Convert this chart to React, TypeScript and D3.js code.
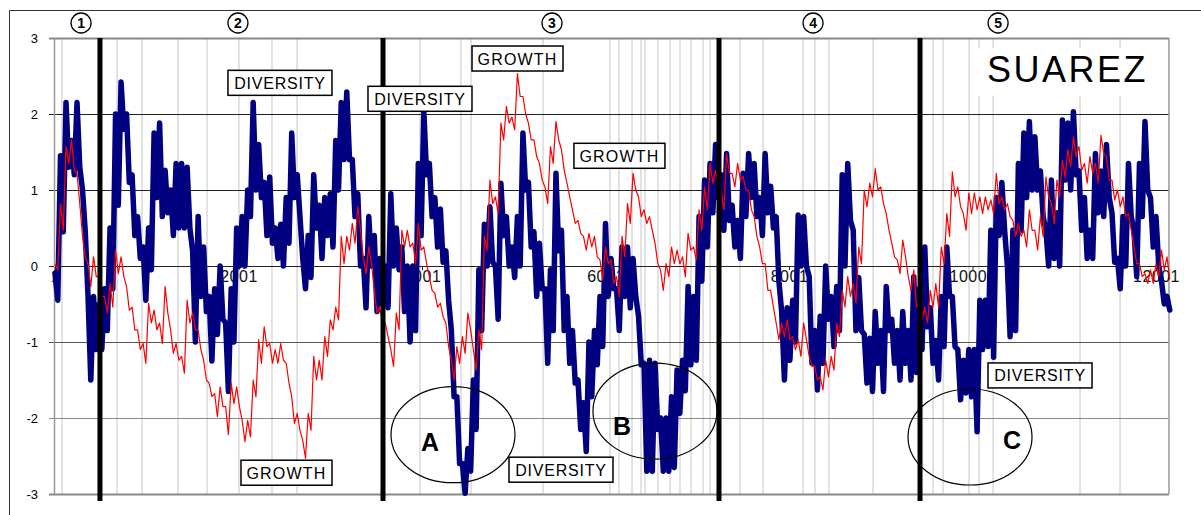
import React, { useEffect, useRef } from "react";
import * as d3 from "d3";

// the series are read every 60 observations; each reading keeps the top and the
// bottom of the noisy band at that spot (drawn 30 observations apart)
const STEP = 60;

// DIVERSITY (blue), top of band
const diversityHigh = [
  -0.1, 1.45, 2.15, 1.65, 2.15, 1.0, -0.4, -0.4, -0.5, -0.3,
  0.5, 2.0, 2.42, 2.0, 1.2, 0.65, 0.25, 0.5, 1.75, 1.88,
  1.26, 1.0, 1.35, 1.35, 1.3, 0.2, 0.65, 0.25, -0.4, -0.3,
  0.0, -0.75, -0.3, 0.5, 0.65, 1.0, 2.15, 1.6, 1.1, 1.17,
  0.5, 0.55, 0.9, 1.75, 1.2, 0.1, 0.4, 1.2, 0.8, 0.9,
  0.95, 1.65, 2.15, 2.29, 1.4, 0.95, 0.1, 0.65, 0.4, 0.1,
  0.0, 0.95, 0.5, 0.25, 0.0, 0.0, 1.35, 2.03, 1.35, 0.9,
  0.75, 0.2, -0.85, -1.72, -2.6, -2.4, -1.5, -0.05, 0.55, 0.78,
  0.0, 1.09, 0.65, 0.25, 0.65, 1.75, 1.1, 0.45, 0.3, -0.3,
  -0.05, 1.22, 0.47, -0.4, -0.85, -1.5, -1.8, -1.0, -0.85, -0.4,
  0.56, 0.1, -0.3, 0.25, 0.25, 0.1, -0.66, -1.28, -1.24, -1.28,
  -2.0, -2.0, -1.72, -1.37, -1.24, -0.27, -0.4, 0.65, 1.13, 1.35,
  1.6, 1.2, 1.48, 0.8, 0.6, 1.22, 1.48, 1.35, 0.9, 1.48,
  1.05, 0.65, -0.6, -0.55, -0.45, 0.67, 0.65, -0.14, -0.85, -0.66,
  0.0, -0.4, -0.27, 1.2, 1.35, 0.47, -0.15, -0.9, -0.95, -0.6,
  -0.85, -0.27, -0.7, -0.85, -0.6, -0.85, -0.14, -0.3, 0.25, -0.55,
  -0.98, -0.4, 0.25, -0.4, -1.1, -1.24, -1.1, -1.1, -0.45, -0.45,
  0.47, 0.9, 1.1, 0.0, 0.47, 1.35, 1.75, 1.9, 1.7, 1.25,
  0.47, 1.13, 0.7, 1.92, 1.88, 2.03, 1.25, 0.9, 0.47, 1.48,
  1.25, 1.6, 0.7, 0.1, 0.65, 1.35, 0.47, 1.35, 1.9, 0.9,
  0.65, -0.2, -0.4,
];

// DIVERSITY (blue), bottom of band
const diversityLow = [
  -0.45, 0.45, 1.3, 1.2, 1.3, 0.45, -1.5, -1.1, -1.1, -0.85,
  -0.3, 0.8, 1.8, 1.1, 0.4, 0.1, -0.45, -0.05, 0.9, 0.65,
  0.7, 0.4, 0.5, 0.5, 0.5, -1.0, -0.4, -0.6, -1.25, -0.9,
  -0.7, -1.65, -1.0, 0.0, 0.0, 0.65, 1.0, 0.9, 0.4, 0.3,
  0.1, 0.0, 0.3, 0.9, 0.65, -0.3, -0.15, 0.5, 0.1, 0.4,
  0.25, 1.0, 1.4, 1.4, 0.65, 0.0, -0.55, 0.0, -0.6, -0.5,
  -0.55, 0.0, -0.05, -0.6, -1.0, -0.85, 0.4, 1.2, 0.65, 0.25,
  0.05, -0.45, -1.72, -2.6, -2.99, -2.7, -2.15, -0.85, 0.0, 0.05,
  -0.7, 0.4, 0.0, -0.15, 0.0, 1.0, 0.25, -0.4, -0.3, -1.28,
  -0.85, 0.2, -0.85, -1.28, -1.54, -2.15, -2.44, -1.72, -1.3, -1.06,
  -0.4, -0.3, -0.85, -0.4, -0.55, -0.4, -1.3, -2.7, -2.7, -2.15,
  -2.7, -2.7, -2.65, -1.94, -1.64, -1.3, -1.24, -0.2, 0.25, 0.7,
  0.9, 0.47, 0.6, 0.25, 0.1, 0.65, 0.9, 0.65, 0.4, 0.7,
  0.5, -0.2, -1.5, -1.24, -1.0, 0.0, 0.0, -1.28, -1.63, -1.28,
  -0.7, -1.06, -0.85, 0.0, 0.6, -0.85, -0.85, -1.54, -1.65, -1.28,
  -1.65, -0.85, -1.28, -1.5, -1.28, -1.5, -1.4, -1.1, -0.8, -1.28,
  -1.5, -1.06, -0.4, -1.06, -1.76, -1.67, -1.72, -2.18, -1.1, -1.06,
  -1.2, 0.4, 0.47, -0.93, -0.85, 0.47, 0.9, 1.0, 1.0, 0.65,
  0.0, 0.1, 0.0, 1.13, 1.0, 1.2, 0.47, 0.1, 0.1, 0.7,
  0.65, 0.9, 0.05, -0.3, 0.0, 0.65, -0.14, 0.65, 1.0, 0.25,
  0.0, -0.5, -0.58,
];

// GROWTH (red), top of band
const growthHigh = [
  0.03, 0.82, 1.57, 1.66, 1.22, 0.39, 0.03, 0.12, -0.14, -0.4,
  -0.23, 0.21, 0.12, -0.27, -0.54, -0.84, -1.02, -0.49, -0.58, -0.75,
  -0.27, -0.84, -1.02, -1.19, -0.45, -0.62, -0.84, -1.24, -1.54, -1.68,
  -1.59, -1.85, -1.54, -1.59, -2.03, -2.03, -1.5, -0.97, -0.8, -1.02,
  -1.1, -1.02, -1.28, -1.72, -1.94, -2.29, -1.94, -1.19, -1.24, -0.93,
  -0.71, -0.54, 0.39, 0.39, 0.56, 0.78, 0.12, 0.25, -0.32, -0.54,
  -0.75, -1.1, -0.62, 0.47, 0.47, 0.3, 0.56, 0.25, -0.14, -0.36,
  -0.49, -0.75, -1.24, -1.06, -0.93, -0.62, -1.1, -0.84, 0.39, 1.13,
  0.91, 1.88, 2.1, 1.96, 2.53, 2.23, 1.88, 1.66, 1.35, 1.04,
  1.57, 1.9, 1.53, 1.09, 0.74, 0.6, 0.39, 0.43, 0.39, 0.08,
  0.25, 0.08, -0.14, 0.39, 0.82, 1.22, 0.91, 0.74, 0.65, 0.3,
  -0.05, 0.03, 0.25, 0.21, 0.12, 0.43, 0.25, 0.74, 1.04, 1.35,
  1.26, 1.0, 1.48, 1.22, 1.35, 1.18, 1.0, 0.65, 0.25, 0.03,
  -0.32, -0.75, -0.75, -0.71, -0.93, -0.97, -0.75, -1.19, -1.32, -1.46,
  -1.24, -1.19, -0.75, -0.32, -0.14, -0.23, 0.25, 1.0, 1.09, 1.28,
  1.04, 0.69, 0.3, 0.08, 0.34, -0.14, -0.05, -0.49, -0.54, -0.32,
  -0.23, 0.25, 0.69, 1.24, 1.04, 0.69, 0.96, 0.96, 0.91, 0.91,
  0.87, 1.22, 0.91, 0.82, 0.6, 0.56, 0.47, 0.74, 0.47, 0.65,
  1.17, 0.82, 1.13, 1.39, 1.53, 1.7, 1.57, 1.35, 1.44, 1.35,
  1.72, 1.44, 1.13, 1.0, 0.91, 0.69, 0.25, 0.03, -0.1, -0.05,
  0.03, 0.21, 0.12,
];

// GROWTH (red), bottom of band
const growthLow = [
  -0.05, 0.47, 1.35, 1.26, 0.82, 0.12, -0.27, -0.14, -0.4, -0.62,
  -0.54, -0.1, -0.14, -0.58, -0.84, -1.1, -1.28, -0.75, -0.84, -1.02,
  -0.62, -1.15, -1.24, -1.41, -0.75, -0.84, -1.1, -1.5, -1.72, -1.98,
  -1.85, -2.22, -1.81, -1.85, -2.31, -2.25, -1.72, -1.28, -1.06, -1.28,
  -1.28, -1.24, -1.54, -2.07, -2.16, -2.53, -2.16, -1.5, -1.5, -1.19,
  -0.84, -0.71, 0.03, 0.21, 0.3, 0.47, -0.1, 0.03, -0.62, -0.75,
  -0.93, -1.32, -0.84, 0.25, 0.25, 0.03, 0.21, 0.03, -0.32, -0.54,
  -0.67, -1.06, -1.5, -1.28, -1.15, -0.84, -1.37, -1.1, 0.21, 0.82,
  0.69, 1.66, 1.88, 1.79, 2.23, 2.0, 1.66, 1.44, 1.13, 0.82,
  1.35, 1.66, 1.26, 0.91, 0.56, 0.43, 0.21, 0.25, 0.12, -0.18,
  0.03, -0.23, -0.4, 0.12, 0.56, 1.0, 0.65, 0.56, 0.47, 0.03,
  -0.32, -0.14, 0.03, 0.03, -0.14, 0.21, 0.08, 0.47, 0.74, 1.09,
  1.04, 0.74, 1.22, 1.04, 1.13, 1.0, 0.74, 0.39, 0.03, -0.32,
  -0.54, -0.97, -0.93, -0.97, -1.1, -1.19, -0.97, -1.32, -1.5, -1.63,
  -1.46, -1.37, -0.93, -0.54, -0.4, -0.49, 0.03, 0.78, 0.91, 1.0,
  0.82, 0.47, 0.12, -0.1, 0.12, -0.32, -0.54, -0.71, -0.75, -0.54,
  -0.54, 0.03, 0.39, 0.91, 0.78, 0.47, 0.69, 0.74, 0.69, 0.74,
  0.69, 0.82, 0.74, 0.65, 0.39, 0.39, 0.25, 0.47, 0.21, 0.39,
  0.91, 0.56, 0.91, 1.17, 1.31, 1.44, 1.26, 1.09, 1.22, 1.09,
  1.48, 1.13, 0.87, 0.78, 0.65, 0.47, 0.03, -0.14, -0.23, -0.23,
  -0.14, -0.05, -0.18,
];

const xTicks = [1, 2001, 4001, 6001, 8001, 10001, 12001];
const yTicks = [3, 2, 1, 0, -1, -2, -3];

// light vertical markers (observation numbers)
const eventLines = [
  77, 677, 949, 1342, 1658, 2006, 2366, 2639, 3979, 4426, 4535, 5320,
  6050, 6148, 6290, 6388, 6432, 6573, 6704, 6813, 6933, 7064, 7140,
  7467, 7718, 8154, 8284, 8437, 8917, 9571, 9680, 9963, 10072, 10225,
  11173, 11609,
];

// heavy phase separators and phase numbers
const phaseBreaks = [491, 3576, 7238, 9429];
const phaseNumbers = ["1", "2", "3", "4", "5"];
const phaseCentres = [285, 1995, 5418, 8263, 10280];

// boxed annotations: text, observation, value
const boxTexts = ["DIVERSITY", "DIVERSITY", "GROWTH", "GROWTH", "GROWTH", "DIVERSITY", "DIVERSITY"];
const boxAt = [
  [2453, 2.41], [3979, 2.2], [5042, 2.73], [6153, 1.45],
  [2524, -2.72], [5516, -2.68], [10737, -1.44],
];

const circleNames = ["A", "B", "C"];
const circleAt = [[4339, -2.22], [6540, -1.91], [9974, -2.25]];
const letterAt = [[4088, -2.32], [6181, -2.1], [10432, -2.29]];

const FONT = "'Liberation Sans', Arial, sans-serif";

// zigzag through top and bottom of the band
function bandPoints(high: number[], low: number[]) {
  const pts: [number, number][] = [];
  high.forEach((h, i) => {
    pts.push([1 + i * STEP, h]);
    pts.push([1 + i * STEP + STEP / 2, low[i]]);
  });
  return pts;
}

function Chart() {
  const ref = useRef<SVGSVGElement>(null);

  useEffect(() => {
    const width = 1201;
    const height = 515;
    const plotRight = 1169;
    const svg = d3.select(ref.current);
    svg.selectAll("*").remove();

    const x = d3.scaleLinear().domain([1, 12001]).range([55, 1156]);
    const y = d3.scaleLinear().domain([-3, 3]).range([494, 38]);

    svg.append("rect").attr("width", width).attr("height", height).attr("fill", "#fff");

    // outer frame (only top and left show)
    svg.append("path")
      .attr("d", `M9.5,${height}V10.5H${width}`)
      .attr("fill", "none").attr("stroke", "#333").attr("stroke-width", 1);

    // light vertical lines
    svg.append("g").selectAll("line")
      .data(eventLines).enter().append("line")
      .attr("x1", d => x(d)).attr("x2", d => x(d))
      .attr("y1", y(3)).attr("y2", y(-3))
      .attr("stroke", "#cfcfcf").attr("stroke-width", 1.2);

    // horizontal grid lines
    svg.append("g").selectAll("line")
      .data(yTicks).enter().append("line")
      .attr("x1", 49).attr("x2", plotRight)
      .attr("y1", d => Math.round(y(d)) + 0.5).attr("y2", d => Math.round(y(d)) + 0.5)
      .attr("stroke", d => (d === 3 || d <= -2 ? "#888" : d === -1 ? "#555" : "#222"))
      .attr("stroke-width", d => (d === 3 || d === -3 ? 2 : 1.2));

    // plot borders left / right
    svg.append("line").attr("x1", 54.5).attr("x2", 54.5).attr("y1", y(3)).attr("y2", y(-3))
      .attr("stroke", "#999").attr("stroke-width", 1.5);
    svg.append("line").attr("x1", plotRight).attr("x2", plotRight).attr("y1", y(3)).attr("y2", y(-3))
      .attr("stroke", "#999").attr("stroke-width", 1.5);

    // y labels
    svg.append("g").selectAll("text")
      .data(yTicks).enter().append("text")
      .attr("x", 38).attr("y", d => y(d) + 5)
      .attr("text-anchor", "end")
      .attr("font-family", FONT).attr("font-size", 13)
      .text(d => d);

    // x axis sitting on zero
    const xAxis = svg.append("g")
      .attr("transform", `translate(0,${y(0)})`)
      .call(d3.axisBottom(x).tickValues(xTicks).tickSize(4).tickFormat(d3.format("d")));
    xAxis.select(".domain").remove();
    xAxis.selectAll(".tick line").attr("stroke", "#222");
    xAxis.selectAll(".tick text")
      .attr("font-family", FONT).attr("font-size", 16)
      .attr("letter-spacing", 0.5).attr("fill", "#111").attr("dy", "0.55em");

    const line = d3.line<[number, number]>()
      .x(d => x(d[0]))
      .y(d => y(d[1]));

    svg.append("path").datum(bandPoints(diversityHigh, diversityLow))
      .attr("d", line)
      .attr("fill", "none").attr("stroke", "#000080")
      .attr("stroke-width", 5.5).attr("stroke-linejoin", "round").attr("stroke-linecap", "round");

    svg.append("path").datum(bandPoints(growthHigh, growthLow))
      .attr("d", line)
      .attr("fill", "none").attr("stroke", "#ff0000")
      .attr("stroke-width", 1.2).attr("stroke-linejoin", "round");

    // heavy phase separators
    svg.append("g").selectAll("line")
      .data(phaseBreaks).enter().append("line")
      .attr("x1", d => x(d)).attr("x2", d => x(d))
      .attr("y1", y(3)).attr("y2", 501)
      .attr("stroke", "#000").attr("stroke-width", 5);

    // phase numbers in circles
    const ph = svg.append("g").selectAll("g")
      .data(phaseNumbers).enter().append("g")
      .attr("transform", (d, i) => `translate(${x(phaseCentres[i])},23)`);
    ph.append("circle").attr("r", 10).attr("fill", "#fff").attr("stroke", "#000").attr("stroke-width", 1.3);
    ph.append("text").attr("text-anchor", "middle").attr("y", 5)
      .attr("font-family", FONT).attr("font-weight", "bold").attr("font-size", 14)
      .text(d => d);

    // ellipses A, B, C
    svg.append("g").selectAll("ellipse")
      .data(circleNames).enter().append("ellipse")
      .attr("cx", (d, i) => x(circleAt[i][0])).attr("cy", (d, i) => y(circleAt[i][1]))
      .attr("rx", 62).attr("ry", 48)
      .attr("fill", "none").attr("stroke", "#000").attr("stroke-width", 1.2);
    svg.append("g").selectAll("text")
      .data(circleNames).enter().append("text")
      .attr("x", (d, i) => x(letterAt[i][0])).attr("y", (d, i) => y(letterAt[i][1]) + 9)
      .attr("text-anchor", "middle")
      .attr("font-family", FONT).attr("font-weight", "bold").attr("font-size", 25)
      .text(d => d);

    // boxed labels
    const bx = svg.append("g").selectAll("g")
      .data(boxTexts).enter().append("g")
      .attr("transform", (d, i) => `translate(${x(boxAt[i][0])},${y(boxAt[i][1])})`);
    bx.append("rect")
      .attr("x", d => (d === "GROWTH" ? -45.5 : -52)).attr("y", -12.5)
      .attr("width", d => (d === "GROWTH" ? 91 : 104)).attr("height", 25)
      .attr("fill", "#fff").attr("stroke", "#000").attr("stroke-width", 1.5);
    bx.append("text")
      .attr("text-anchor", "middle").attr("y", 6)
      .attr("font-family", FONT).attr("font-size", 16)
      .attr("letter-spacing", d => (d === "GROWTH" ? 1.2 : 0.8))
      .text(d => d);

    // title
    svg.append("rect").attr("x", 978).attr("y", 48).attr("width", 186).attr("height", 48).attr("fill", "#fff");
    svg.append("text")
      .attr("x", 987).attr("y", 82)
      .attr("font-family", FONT).attr("font-size", 36).attr("letter-spacing", 2.5)
      .text("SUAREZ");
  }, []);

  return <svg ref={ref} width={1201} height={515} style={{ display: "block" }} />;
}

export default function App() {
  useEffect(() => {
    document.body.style.margin = "0";
  }, []);
  return <Chart />;
}
